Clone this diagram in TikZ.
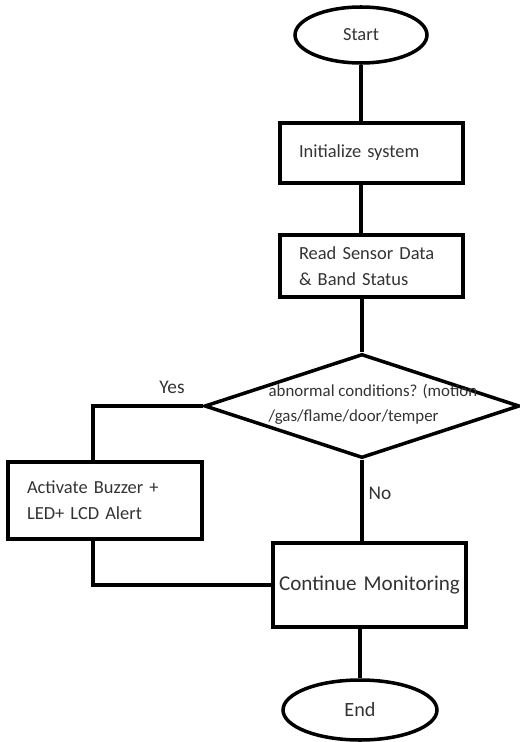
\documentclass[tikz,border=0pt]{standalone}
\usepackage{fontspec}
\setmainfont{Carlito}
\usetikzlibrary{shapes,arrows}
\usetikzlibrary{calc}

\begin{document}
\begin{tikzpicture}[line width=2pt,
		term/.style={draw=black, ellipse, line width=2pt, inner sep=0pt, text=black!80},
		procbox/.style={draw=black, rectangle, line width=2.4pt, inner xsep=0.38cm, inner ysep=0pt, text width=#1, align=left, text=black!80, font=\fontsize{10.5}{15}\selectfont},
		lbl/.style={text=black!80, font=\fontsize{11}{13}\selectfont}]
		\useasboundingbox (0,0) rectangle (10.38,-14.84);
		\node [term, minimum width=2.64cm, minimum height=1.12cm, font=\fontsize{10.5}{12}\selectfont] (start) at (7.22,-0.70) {Start};
		\node [procbox=2.9cm, minimum height=1.2cm] (init) at (7.43,-3.06) {\raisebox{-0.1cm}{Initialize system}};
		\node [procbox=2.9cm, minimum height=1.24cm] (read) at (7.43,-5.32) {Read Sensor Data\\\& Band Status};
		\node [draw=black, diamond, line width=2pt, minimum width=6.3cm, minimum height=2.08cm, inner sep=0pt] (dec) at (7.24,-8.12) {};
		\node [anchor=west, align=left, text=black!80, font=\fontsize{9.6}{14}\selectfont] (dectxt) at (5.22,-8.08) {abnormal conditions? (motion\\/gas/flame/door/temper};
		\node [procbox=3.12cm, minimum height=1.54cm] (act) at (2.10,-10.01) {Activate Buzzer +\\LED+ LCD Alert};
		\node [procbox=3.7cm, inner xsep=0.08cm, align=center, minimum height=1.68cm, font=\fontsize{12}{14}\selectfont] (cont) at (7.39,-11.70) {Continue Monitoring};
		\node [term, minimum width=3.08cm, minimum height=1.2cm, font=\fontsize{11.5}{13}\selectfont] (end) at (7.20,-14.20) {End};
		\node [lbl] (yes) at (3.44,-7.74) {Yes};
		\node [lbl] (no) at (7.60,-9.86) {No};
		\draw (start.south) -- (start.south |- init.north);
		\draw (init.south -| start.south) -- (read.north -| start.south);
		\draw (read.south -| dec.north) -- (dec.north);
		\draw (dec.south) -- (cont.north -| dec.south);
		\draw (cont.south -| end.north) -- (end.north);
		\draw (dec.west) -| ([xshift=-0.24cm]act.north);
		\draw ([xshift=-0.24cm]act.south) |- (cont.west);
\end{tikzpicture}
\end{document}
